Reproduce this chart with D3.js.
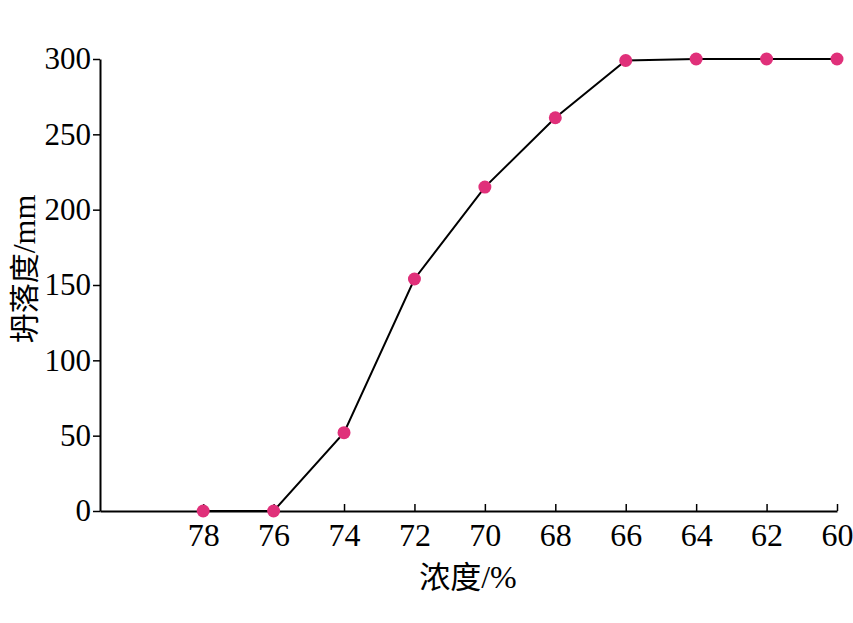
<!DOCTYPE html>
<html><head><meta charset="utf-8">
<script src="https://cdn.jsdelivr.net/npm/d3@7"></script>
<style>body{margin:0;background:#fff}</style>
</head><body>
<svg id="c" width="853" height="623"></svg>
<script>
const concentration = [78, 76, 74, 72, 70, 68, 66, 64, 62, 60];
const slump = [0, 0, 52, 154, 215, 261, 299, 300, 300, 300];
const xTicks = [78, 76, 74, 72, 70, 68, 66, 64, 62, 60];
const yTicks = [0, 50, 100, 150, 200, 250, 300];

const svg = d3.select("#c");
const x = d3.scaleLinear().domain([80.93, 60]).range([100, 837]);
const y = d3.scaleLinear().domain([0, 300]).range([511, 59]);

const serif = "'Liberation Serif','Times New Roman',serif";

const xAxis = svg.append("g").attr("transform", "translate(0,511)")
  .call(d3.axisBottom(x).tickValues(xTicks).tickSize(-7).tickSizeOuter(0).tickPadding(12).tickFormat(d3.format("d")));
xAxis.select(".domain").attr("stroke", "#000").attr("stroke-width", 2);
xAxis.selectAll(".tick line").attr("stroke", "#000").attr("stroke-width", 1.5);
xAxis.selectAll("text").attr("font-family", serif).attr("font-size", 32).attr("fill", "#000");

const yAxis = svg.append("g").attr("transform", "translate(100,0)")
  .call(d3.axisLeft(y).tickValues(yTicks).tickSize(7).tickSizeOuter(0).tickPadding(2));
yAxis.select(".domain").attr("stroke", "#000").attr("stroke-width", 2);
yAxis.selectAll(".tick line").attr("stroke", "#000").attr("stroke-width", 1.5);
yAxis.selectAll("text").attr("font-family", serif).attr("font-size", 31).attr("fill", "#000");

const data = concentration.map((c, i) => ({c, v: slump[i]}));
svg.append("path").datum(data)
  .attr("fill", "none").attr("stroke", "#000").attr("stroke-width", 2)
  .attr("d", d3.line().x(d => x(d.c)).y(d => y(d.v)));
svg.selectAll("circle.pt").data(data).join("circle").attr("class", "pt")
  .attr("cx", d => x(d.c)).attr("cy", d => y(d.v)).attr("r", 6.5)
  .attr("fill", "#e0307a");

const cjk = "'Noto Sans CJK SC',sans-serif";
const xl = svg.append("text").attr("x", 468).attr("y", 588).attr("text-anchor", "middle")
  .attr("font-size", 31).attr("fill", "#000");
xl.append("tspan").attr("font-family", cjk).text("浓度");
xl.append("tspan").attr("font-family", serif).attr("font-size", 32).text("/%");

const yl = svg.append("text").attr("transform", "translate(35,269) rotate(-90)").attr("text-anchor", "middle")
  .attr("font-size", 30).attr("fill", "#000");
yl.append("tspan").attr("font-family", cjk).text("坍落度");
yl.append("tspan").attr("font-family", serif).attr("font-size", 32).text("/mm");
</script>
</body></html>
